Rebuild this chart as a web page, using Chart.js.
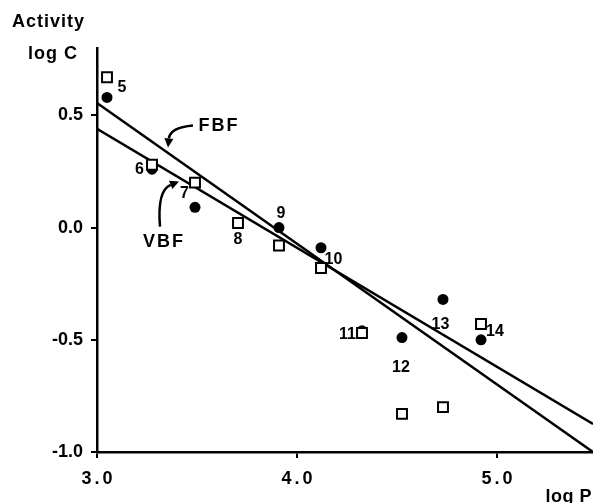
<!DOCTYPE html>
<html>
<head>
<meta charset="utf-8">
<script src="https://cdn.jsdelivr.net/npm/chart.js@4.4.1/dist/chart.umd.min.js"></script>
<style>
  html, body { margin: 0; padding: 0; background: #fff; }
  #wrap { width: 593px; height: 503px; }
</style>
</head>
<body>
<div id="wrap"><canvas id="plot"></canvas></div>
<script>
// compound numbers and their log P
const compounds = ['5', '6', '7', '8', '9', '10', '11', '12', '13', '14'];
const logP = [3.05, 3.275, 3.49, 3.705, 3.91, 4.12, 4.325, 4.525, 4.73, 4.92];
// open squares and filled circles (log C)
const logCSquare = [0.67, 0.28, 0.20, 0.02, -0.08, -0.18, -0.47, -0.83, -0.80, -0.43];
const logCCircle = [0.58, 0.26, 0.09, null, 0.00, -0.09, -0.46, -0.49, -0.32, -0.50];
// fitted lines
const lineX = [3.0, 5.48];
const fbfY = [0.555, -1.0];
const vbfY = [0.44, -0.875];
// ticks
const xTicks = [3.0, 4.0, 5.0];
const yTicks = [-1.0, -0.5, 0.0, 0.5];

const FONT = '"Liberation Sans", Arial, Helvetica, sans-serif';

// where each compound number sits next to its marker (px)
const labelPlace = [
  ['sq', 15, 9], ['sq', -12.5, 3.5], ['sq', -10.5, 9.5], ['sq', 0, 16], ['ci', 2, -15],
  ['ci', 12.5, 10.5], ['sq', -14.5, 1], ['ci', -1, 29.5], ['ci', -2.5, 24], ['sq', 14, 7]
];

// ── annotations: numbers, FBF / VBF with curved arrows, axis titles ──
const notes = {
  id: 'notes',
  beforeDraw(chart) {
    // x tick labels are spaced out in the original
    const sx = chart.scales.x;
    if (!sx._wrapped) {
      const orig = sx.drawLabels;
      sx.drawLabels = function (area) {
        const c = this.ctx;
        c.save();
        c.letterSpacing = '3px';
        c.translate(1.5, 0);
        orig.call(this, area);
        c.restore();
      };
      sx._wrapped = true;
    }
  },
  afterDraw(chart) {
    const { ctx, scales: { x, y } } = chart;
    ctx.save();
    ctx.fillStyle = '#000';
    ctx.strokeStyle = '#000';

    // compound numbers
    ctx.font = 'bold 16px ' + FONT;
    ctx.textAlign = 'center';
    ctx.textBaseline = 'middle';
    compounds.forEach((name, i) => {
      const [k, dx, dy] = labelPlace[i];
      const v = k === 'sq' ? logCSquare[i] : logCCircle[i];
      ctx.fillText(name, x.getPixelForValue(logP[i]) + dx, y.getPixelForValue(v) + dy + 1);
    });

    // line names
    ctx.font = 'bold 18px ' + FONT;
    ctx.letterSpacing = '2px';
    ctx.fillText('FBF', x.getPixelForValue(3.605) + 1, y.getPixelForValue(0.455) + 1);
    ctx.fillText('VBF', x.getPixelForValue(3.33) + 1, y.getPixelForValue(-0.058) + 1);

    const arrow = (p0, p1, p2) => {
      const a = [x.getPixelForValue(p0[0]), y.getPixelForValue(p0[1])];
      const b = [x.getPixelForValue(p1[0]), y.getPixelForValue(p1[1])];
      const e = [x.getPixelForValue(p2[0]), y.getPixelForValue(p2[1])];
      const ang = Math.atan2(e[1] - b[1], e[0] - b[0]);
      const hl = 9, hw = 4.5;
      const bx = e[0] - hl * Math.cos(ang), by = e[1] - hl * Math.sin(ang);
      ctx.lineWidth = 2.5;
      ctx.beginPath();
      ctx.moveTo(a[0], a[1]);
      ctx.quadraticCurveTo(b[0], b[1], bx, by);
      ctx.stroke();
      ctx.beginPath();
      ctx.moveTo(e[0], e[1]);
      ctx.lineTo(bx + hw * Math.sin(ang), by - hw * Math.cos(ang));
      ctx.lineTo(bx - hw * Math.sin(ang), by + hw * Math.cos(ang));
      ctx.closePath();
      ctx.fill();
    };
    arrow([3.48, 0.455], [3.365, 0.446], [3.355, 0.357]);
    arrow([3.315, 0.004], [3.30, 0.165], [3.41, 0.205]);

    // axis titles
    ctx.letterSpacing = '1px';
    ctx.textBaseline = 'alphabetic';
    ctx.textAlign = 'left';
    ctx.fillText('Activity', 12, 27);
    ctx.fillText('log C', 28, 59);
    ctx.letterSpacing = '0.5px';
    ctx.textAlign = 'right';
    ctx.fillText('log P', 592, 502);
    ctx.restore();
  }
};

const axisCommon = {
  type: 'linear',
  grid: { drawOnChartArea: false, drawTicks: true, tickLength: 6, color: '#000', lineWidth: 2 },
  border: { display: true, color: '#000', width: 2.5 },
};

new Chart(document.getElementById('plot'), {
  type: 'scatter',
  data: {
    datasets: [
      {
        label: 'squares',
        data: logP.map((v, i) => ({ x: v, y: logCSquare[i] })),
        pointStyle: 'rect',
        pointRadius: 7,
        backgroundColor: '#fff',
        borderColor: '#000',
        borderWidth: 2,
        order: 0
      },
      {
        label: 'circles',
        data: logP.map((v, i) => ({ x: v, y: logCCircle[i] })).filter(p => p.y !== null),
        pointStyle: 'circle',
        pointRadius: 5.5,
        backgroundColor: '#000',
        borderColor: '#000',
        borderWidth: 0,
        order: 1
      },
      {
        label: 'FBF',
        data: lineX.map((v, i) => ({ x: v, y: fbfY[i] })),
        showLine: true,
        borderColor: '#000',
        borderWidth: 2.5,
        pointRadius: 0,
        order: 2
      },
      {
        label: 'VBF',
        data: lineX.map((v, i) => ({ x: v, y: vbfY[i] })),
        showLine: true,
        borderColor: '#000',
        borderWidth: 2.5,
        pointRadius: 0,
        order: 2
      }
    ]
  },
  options: {
    responsive: true,
    maintainAspectRatio: false,
    animation: false,
    layout: { padding: { top: 48, right: 0, left: 0, bottom: 0 }, autoPadding: false },
    plugins: { legend: { display: false }, tooltip: { enabled: false } },
    scales: {
      x: {
        ...axisCommon,
        min: 3.0, max: 5.48,
        afterBuildTicks: s => { s.ticks = xTicks.map(v => ({ value: v })); },
        afterFit: s => {
          s.height = 51; s.paddingLeft = 0; s.paddingRight = 0;
          if (s._margins) { s._margins.left = 0; s._margins.right = 0; }
        },
        ticks: {
          color: '#000', padding: 10, maxRotation: 0, autoSkip: false,
          font: { family: FONT, size: 18, weight: 'bold' },
          callback: v => v.toFixed(1)
        }
      },
      y: {
        ...axisCommon,
        min: -1.0, max: 0.8,
        afterBuildTicks: s => { s.ticks = yTicks.map(v => ({ value: v })); },
        afterFit: s => {
          s.width = 97; s.paddingTop = 0; s.paddingBottom = 0;
          if (s._margins) { s._margins.top = 0; s._margins.bottom = 0; }
        },
        ticks: {
          color: '#000', padding: 8, autoSkip: false,
          font: { family: FONT, size: 18, weight: 'bold' },
          callback: v => v.toFixed(1)
        }
      }
    }
  },
  plugins: [notes]
});
</script>
</body>
</html>
